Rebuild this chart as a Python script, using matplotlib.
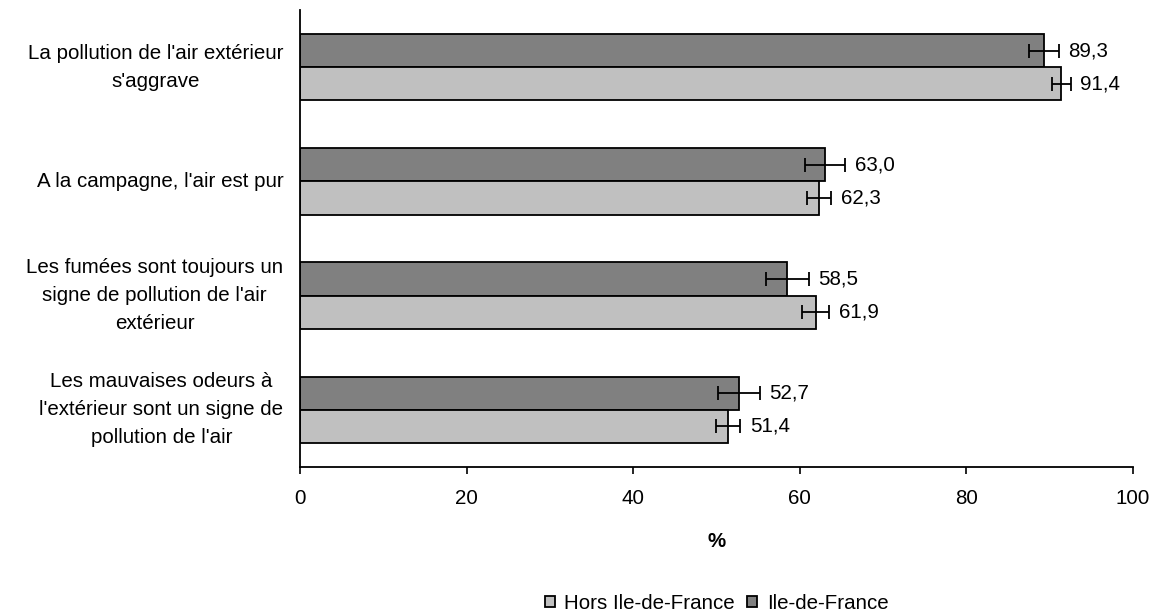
import numpy as np
import matplotlib.pyplot as plt

plt.rcParams['font.family'] = ['Liberation Sans', 'DejaVu Sans']

categories = [
    "La pollution de l'air extérieur\ns'aggrave",
    "A la campagne, l'air est pur",
    "Les fumées sont toujours un\nsigne de pollution de l'air\nextérieur",
    "Les mauvaises odeurs à\nl'extérieur sont un signe de\npollution de l'air",
]
idf = [89.3, 63.0, 58.5, 52.7]
idf_err = [1.8, 2.4, 2.55, 2.5]
hors_idf = [91.4, 62.3, 61.9, 51.4]
hors_err = [1.1, 1.45, 1.6, 1.45]
xticks = [0, 20, 40, 60, 80, 100]

FS = 14.8


def fmt(v):
    return f"{v:.1f}".replace('.', ',')


fig = plt.figure(figsize=(11.59, 6.16), dpi=100)
ax = fig.add_axes([300 / 1159, 1 - 467 / 616, 833 / 1159, 457 / 616])

y = np.arange(len(categories))
h = 0.29
err_kw = dict(ecolor='black', elinewidth=1.3, capsize=5, capthick=1.3)

b_idf = ax.barh(y - h / 2, idf, height=h, color='#808080', edgecolor='black',
                linewidth=1.3, xerr=idf_err, error_kw=err_kw, label='Ile-de-France')
b_hors = ax.barh(y + h / 2, hors_idf, height=h, color='#c0c0c0', edgecolor='black',
                 linewidth=1.3, xerr=hors_err, error_kw=err_kw, label='Hors Ile-de-France')

for yy, v, e in zip(y - h / 2, idf, idf_err):
    ax.annotate(fmt(v), (v + e, yy), xytext=(7, 0), textcoords='offset points',
                va='center', ha='left', fontsize=FS)
for yy, v, e in zip(y + h / 2, hors_idf, hors_err):
    ax.annotate(fmt(v), (v + e, yy), xytext=(7, 0), textcoords='offset points',
                va='center', ha='left', fontsize=FS)

ax.set_xlim(0, 100)
ax.set_ylim(len(categories) - 0.5, -0.5)
ax.set_xticks(xticks)
ax.set_xticklabels([str(t) for t in xticks], fontsize=FS)
ax.set_yticks(y)
ax.set_yticklabels(categories, fontsize=FS, multialignment='center', linespacing=1.6)
for lab in ax.get_yticklabels():
    lab.set_va('center')
ax.tick_params(axis='y', length=0, pad=12)
ax.tick_params(axis='x', length=5, width=1.2, pad=11)
for s in ['top', 'right']:
    ax.spines[s].set_visible(False)
for s in ['left', 'bottom']:
    ax.spines[s].set_linewidth(1.3)

ax.set_xlabel('%', fontsize=FS, fontweight='bold', labelpad=17)

ax.legend(handles=[b_hors, b_idf], loc='center', bbox_to_anchor=(0.5, -0.298),
          ncol=2, frameon=False, fontsize=FS, handlelength=0.5, handleheight=0.5,
          handletextpad=0.45, columnspacing=0.6)

fig.savefig('out.png', dpi=100)
